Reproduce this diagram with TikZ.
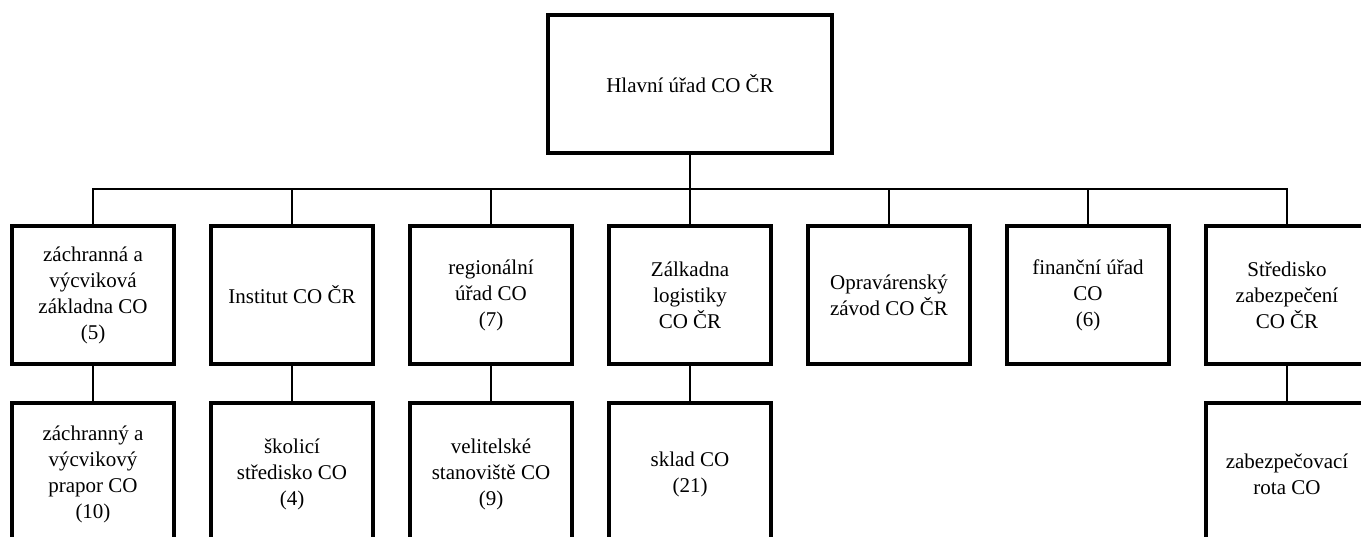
\documentclass[tikz,border=0pt]{standalone}
\usepackage{fontspec}
\setmainfont{Liberation Serif}

\begin{document}
\begin{tikzpicture}[x = 1pt, y = -1pt, unit/.style = {draw, line width = 3.2pt, minimum width = 162pt, minimum height = 138pt, align = center, font = \fontsize{21}{26}\selectfont, inner sep = 2pt}, link/.style = {line width = 2.4pt}]
					\useasboundingbox (0,0) rectangle (1361,537);
					\clip (0,0) rectangle (1361,537);
					\node[unit, minimum width = 284pt] (hlavni) at (690,84) {Hlavní úřad CO ČR};
					\node[unit] (zachr) at (93,295) {záchranná a\\výcviková\\základna CO\\(5)};
					\node[unit] (inst) at (292,295) {Institut CO ČR};
					\node[unit] (reg) at (491,295) {regionální\\úřad CO\\(7)};
					\node[unit] (zakl) at (690,295) {Zálkadna\\logistiky\\CO ČR};
					\node[unit] (oprav) at (889,295) {Opravárenský\\závod CO ČR};
					\node[unit] (fin) at (1088,295) {finanční úřad\\CO\\(6)};
					\node[unit] (stred) at (1287,295) {Středisko\\zabezpečení\\CO ČR};
					\node[unit, minimum height = 142pt] (prapor) at (93,474) {záchranný a\\výcvikový\\prapor CO\\(10)};
					\node[unit, minimum height = 142pt] (skol) at (292,474) {školicí\\středisko CO\\(4)};
					\node[unit, minimum height = 142pt] (velit) at (491,474) {velitelské\\stanoviště CO\\(9)};
					\node[unit, minimum height = 142pt] (sklad) at (690,474) {sklad CO\\(21)};
					\node[unit, minimum height = 142pt] (rota) at (1287,474) {zabezpečovací\\rota CO};
					\coordinate (bus) at (690,189);
					\draw[link] (hlavni.south) -- (bus);
					\draw[link] (zachr.north) |- (bus) -| (stred.north);
					\foreach \n in {inst, reg, zakl, oprav, fin}
						\draw[link] (\n.north) -- (\n.north |- bus);
					\draw[link] (zachr.south) -- (prapor.north) (inst.south) -- (skol.north) (reg.south) -- (velit.north) (zakl.south) -- (sklad.north) (stred.south) -- (rota.north);
				\end{tikzpicture}
\end{document}
